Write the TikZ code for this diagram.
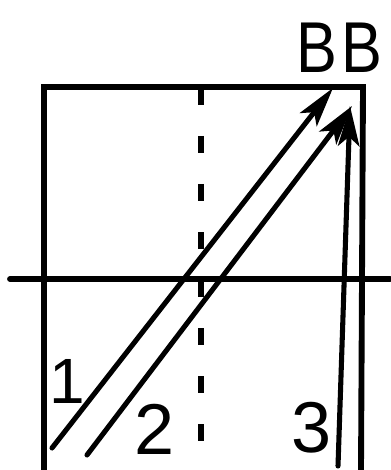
\documentclass[tikz,border=0pt]{standalone}
\usepackage{fontspec}
\setsansfont{Liberation Sans}
\usetikzlibrary{arrows.meta,positioning}
\tikzset{
  >={Stealth[length=30pt,width=16pt,inset=7pt]},
  wall/.style={line width=4.4pt, line cap=round},
  ray/.style={->, line width=3.8pt, line cap=round},
  axis/.style={line width=4.4pt, dash pattern=on 12.5pt off 23.5pt},
  tag/.style={font=\sffamily\fontsize{54}{54}\selectfont, inner sep=0pt},
}

\begin{document}
\begin{tikzpicture}[x=0.75pt, y=-0.75pt]
    \useasboundingbox (0,0) rectangle (390,470);
    % box and horizon
    \coordinate (bl) at (44,470);
    \coordinate (tl) at (44,87);
    \coordinate (tr) at (363,87);
    \coordinate (br) at (361,470);
    \coordinate (hl) at (10,279);
    \coordinate (hr) at (390,279);
    \draw[wall] (bl) -- (tl) -- (tr) -- (br);
    \draw[wall] (hl) -- (hr);
    % centre line
    \coordinate (mtop) at (201,88);
    \coordinate (mbot) at (201,470);
    \draw[axis] (mtop) -- (mbot);
    % labels
    \node[tag, xscale=0.85] (b1) at (317,48) {B};
    \node[tag, xscale=0.85] (b2) at (362,48) {B};
    \node[tag, font=\sffamily\fontsize{48}{48}\selectfont] (n1) at (67,381) {1};
    \node[tag] (n2) at (155,429) {2};
    \node[tag] (n3) at (312,428) {3};
    % rays
    \coordinate (s1) at (52,448);
    \coordinate (e1) at (333,88);
    \coordinate (s2) at (87,455);
    \coordinate (e2) at (352,106);
    \coordinate (s3) at (338,466);
    \coordinate (e3) at (350,106);
    \draw[ray] (s1) -- (e1);
    \draw[ray] (s2) -- (e2);
    \draw[ray] (s3) -- (e3);
\end{tikzpicture}
\end{document}
